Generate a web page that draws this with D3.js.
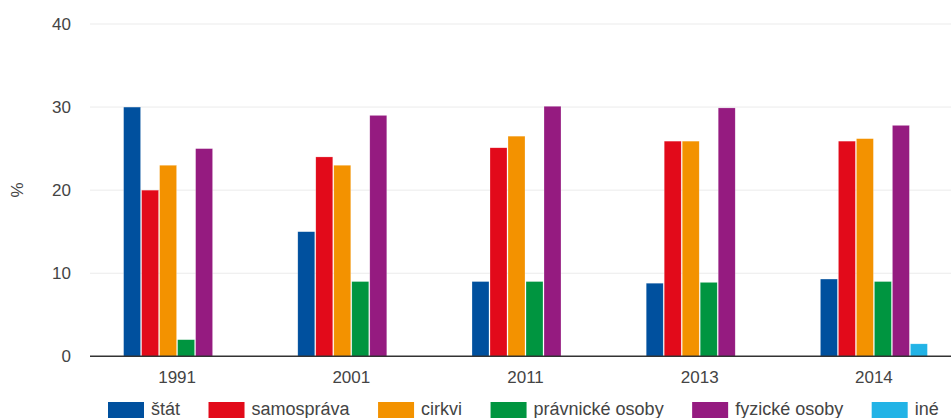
<!DOCTYPE html>
<html><head><meta charset="utf-8">
<script src="https://cdn.jsdelivr.net/npm/d3@7"></script>
<style>body{margin:0;background:#fff;} svg{display:block;font-family:"Liberation Sans",Arial,sans-serif;}</style>
</head><body><svg id="c" width="951" height="418"></svg>
<script>
const years = ["1991","2001","2011","2013","2014"];
const seriesNames = ["štát","samospráva","cirkvi","právnické osoby","fyzické osoby","iné"];
const seriesColors = ["#00509e","#e20a1a","#f39200","#009540","#951b80","#22b3e6"];
const statValues    = [30, 15, 9, 8.8, 9.3];
const samoValues    = [20, 24, 25.1, 25.9, 25.9];
const cirkviValues  = [23, 23, 26.5, 25.9, 26.2];
const pravnValues   = [2, 9, 9, 8.9, 9];
const fyzValues     = [25, 29, 30.1, 29.9, 27.8];
const ineValues     = [0, 0, 0, 0, 1.5];
const yTicks = [0,10,20,30,40];

const allValues = [statValues, samoValues, cirkviValues, pravnValues, fyzValues, ineValues];
const data = years.map((y,i)=>({year:y, vals: seriesNames.map((s,j)=>({key:s, idx:j, v:allValues[j][i]}))}));

const svg = d3.select("#c");
const W = 951;
const y = d3.scaleLinear().domain([0,40]).range([356.3, 24]);
const x = d3.scaleBand().domain(years).range([90, 961]).paddingInner(0.38).paddingOuter(0.19);
const xs = d3.scaleBand().domain(seriesNames).range([0, x.bandwidth()]);

// grid
svg.append("g").selectAll("line").data(yTicks.filter(t=>t>0)).join("line")
  .attr("x1",90).attr("x2",W).attr("y1",d=>y(d)).attr("y2",d=>y(d))
  .attr("stroke","#ebebeb").attr("stroke-width",1);

// y labels
svg.append("g").selectAll("text").data(yTicks).join("text")
  .attr("x",71).attr("y",d=>y(d)).attr("dy","0.36em").attr("text-anchor","end")
  .attr("font-size",17).attr("fill","#444").text(d=>d);

svg.append("text").attr("transform","translate(23,190) rotate(-90)")
  .attr("text-anchor","middle").attr("font-size",17).attr("fill","#444").text("%");

// bars
const g = svg.append("g");
g.selectAll("g").data(data).join("g")
  .attr("transform",d=>`translate(${x(d.year)},0)`)
  .selectAll("rect").data(d=>d.vals.filter(v=>v.v>0)).join("rect")
  .attr("x",d=>xs(d.key)+0.5).attr("width",xs.bandwidth()-1)
  .attr("y",d=>y(d.v)).attr("height",d=>y(0)-y(d.v))
  .attr("fill",d=>seriesColors[d.idx]).attr("stroke","#fff").attr("stroke-opacity",0.5).attr("stroke-width",0.5);

// baseline
svg.append("line").attr("x1",90).attr("x2",W).attr("y1",y(0)).attr("y2",y(0))
  .attr("stroke","#333").attr("stroke-width",1.5);

// x labels
svg.append("g").selectAll("text").data(years).join("text")
  .attr("x",d=>x(d)+x.bandwidth()/2).attr("y",383).attr("text-anchor","middle")
  .attr("font-size",17).attr("fill","#444").text(d=>d);

// legend
const lg = svg.append("g");
let lx = 108;
seriesNames.forEach((s,i)=>{
  lg.append("rect").attr("x",lx).attr("y",402).attr("width",36).attr("height",18).attr("fill",seriesColors[i]);
  const t = lg.append("text").attr("x",lx+43).attr("y",415).attr("font-size",18).attr("fill","#444").text(s);
  lx += 43 + t.node().getComputedTextLength() + 28.5;
});
</script></body></html>
